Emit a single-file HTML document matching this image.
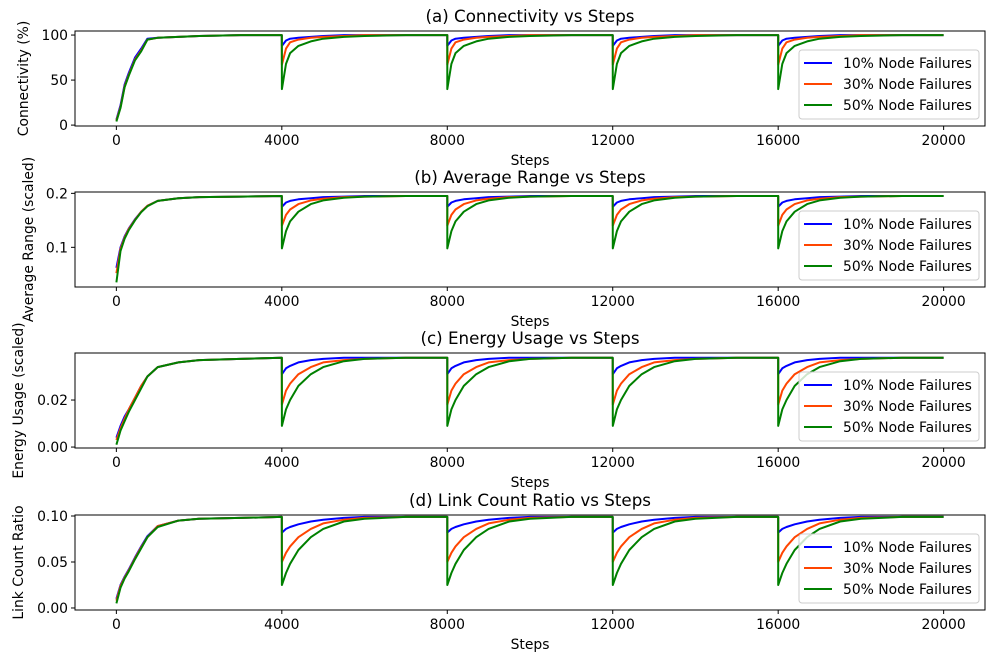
<!DOCTYPE html>
<html><head><meta charset="utf-8"><style>
body{margin:0;background:#fff}
svg{display:block;font-family:"DejaVu Sans","Liberation Sans",sans-serif}
</style></head><body>
<svg id="chart" width="1000" height="658" viewBox="0 0 1000 658"></svg>
<script>
// ---- data ----
const failureSteps = [4000, 8000, 12000, 16000];
const riseOffsets = [0, 100, 200, 300, 450, 600, 750, 1000, 1500, 2000, 3000, 3999];
const recOffsets = [0, 1, 100, 200, 400, 700, 1000, 1500, 2000, 3000, 3999];
const seriesNames = ["10% Node Failures", "30% Node Failures", "50% Node Failures"];
const xTicks = [0, 4000, 8000, 12000, 16000, 20000];

// (a) connectivity
const connRise10 = [6, 22, 45, 58, 75, 85, 96, 97, 98, 99, 100, 100];
const connRise30 = [5, 20, 43, 56, 73, 83, 95, 97, 98, 99, 100, 100];
const connRise50 = [4, 19, 42, 55, 72, 82, 95, 97, 98, 99, 100, 100];
const connRec10 = [100, 88, 94, 96, 97, 98, 99, 100, 100, 100, 100];
const connRec30 = [100, 67, 85, 92, 95, 97, 98, 99, 100, 100, 100];
const connRec50 = [100, 40, 68, 80, 88, 93, 96, 98, 99, 100, 100];
// (b) average range
const rangeRise10 = [0.062, 0.1, 0.12, 0.135, 0.152, 0.166, 0.177, 0.186, 0.191, 0.193, 0.194, 0.195];
const rangeRise30 = [0.052, 0.097, 0.118, 0.134, 0.151, 0.166, 0.177, 0.186, 0.191, 0.193, 0.194, 0.195];
const rangeRise50 = [0.035, 0.093, 0.116, 0.132, 0.15, 0.165, 0.176, 0.186, 0.191, 0.193, 0.194, 0.195];
const rangeRec10 = [0.195, 0.175, 0.183, 0.186, 0.189, 0.191, 0.193, 0.194, 0.195, 0.195, 0.195];
const rangeRec30 = [0.195, 0.14, 0.16, 0.17, 0.18, 0.187, 0.19, 0.193, 0.194, 0.195, 0.195];
const rangeRec50 = [0.195, 0.098, 0.13, 0.148, 0.166, 0.18, 0.187, 0.192, 0.194, 0.195, 0.195];
// (c) energy
const energyRise10 = [0.004, 0.009, 0.013, 0.016, 0.021, 0.026, 0.03, 0.034, 0.036, 0.037, 0.0375, 0.038];
const energyRise30 = [0.003, 0.008, 0.012, 0.016, 0.021, 0.026, 0.03, 0.034, 0.036, 0.037, 0.0375, 0.038];
const energyRise50 = [0.001, 0.007, 0.011, 0.015, 0.02, 0.025, 0.03, 0.034, 0.036, 0.037, 0.0375, 0.038];
const energyRec10 = [0.038, 0.031, 0.0335, 0.0345, 0.036, 0.037, 0.0375, 0.038, 0.038, 0.038, 0.038];
const energyRec30 = [0.038, 0.018, 0.024, 0.027, 0.031, 0.034, 0.036, 0.037, 0.0375, 0.038, 0.038];
const energyRec50 = [0.038, 0.009, 0.016, 0.02, 0.026, 0.031, 0.034, 0.0365, 0.0375, 0.038, 0.038];
// (d) link count ratio
const linkRise10 = [0.01, 0.025, 0.034, 0.042, 0.055, 0.067, 0.078, 0.089, 0.095, 0.097, 0.098, 0.099];
const linkRise30 = [0.008, 0.024, 0.033, 0.041, 0.054, 0.066, 0.077, 0.089, 0.095, 0.097, 0.098, 0.099];
const linkRise50 = [0.005, 0.022, 0.032, 0.04, 0.053, 0.065, 0.077, 0.088, 0.095, 0.097, 0.098, 0.099];
const linkRec10 = [0.099, 0.082, 0.086, 0.088, 0.091, 0.094, 0.096, 0.098, 0.099, 0.099, 0.099];
const linkRec30 = [0.099, 0.05, 0.06, 0.067, 0.077, 0.086, 0.092, 0.096, 0.098, 0.099, 0.099];
const linkRec50 = [0.099, 0.025, 0.038, 0.048, 0.063, 0.077, 0.086, 0.094, 0.097, 0.099, 0.099];

const colors = ["#0000ff", "#ff4500", "#008000"];
const panels = [
 {title:"(a) Connectivity vs Steps", ylabel:"Connectivity (%)", ylx:28, top:31, bot:126, y0:-1, y1:104.5,
  ticks:[0,50,100], fmt:v=>String(v), rise:[connRise10,connRise30,connRise50], rec:[connRec10,connRec30,connRec50]},
 {title:"(b) Average Range vs Steps", ylabel:"Average Range (scaled)", ylx:33, top:192, bot:287, y0:0.0265, y1:0.2025,
  ticks:[0.1,0.2], fmt:v=>v.toFixed(1), rise:[rangeRise10,rangeRise30,rangeRise50], rec:[rangeRec10,rangeRec30,rangeRec50]},
 {title:"(c) Energy Usage vs Steps", ylabel:"Energy Usage (scaled)", ylx:23, top:353, bot:448, y0:-0.0004, y1:0.0400,
  ticks:[0,0.02], fmt:v=>v.toFixed(2), rise:[energyRise10,energyRise30,energyRise50], rec:[energyRec10,energyRec30,energyRec50]},
 {title:"(d) Link Count Ratio vs Steps", ylabel:"Link Count Ratio", ylx:23, top:515, bot:610, y0:-0.0022, y1:0.1011,
  ticks:[0,0.05,0.1], fmt:v=>v.toFixed(2), rise:[linkRise10,linkRise30,linkRise50], rec:[linkRec10,linkRec30,linkRec50]}
];

const NS="http://www.w3.org/2000/svg";
const svg=document.getElementById('chart');
const L=75,R=985,X0=-1000,X1=21000;
const FS=13.9;
const xs=v=>L+(v-X0)/(X1-X0)*(R-L);
function mk(tag,attrs,parent){const e=document.createElementNS(NS,tag);for(const k in attrs)e.setAttribute(k,attrs[k]);(parent||svg).appendChild(e);return e;}

panels.forEach((p,pi)=>{
  const g=mk('g',{});
  
  
  const ys=v=>p.bot-(v-p.y0)/(p.y1-p.y0)*(p.bot-p.top);
  p.rise.forEach((rise,si)=>{
    const pts=[];
    riseOffsets.forEach((o,i)=>pts.push([o,rise[i]]));
    failureSteps.forEach(fs=>{recOffsets.forEach((o,i)=>pts.push([fs+o,p.rec[si][i]]));});
    pts.push([20000,p.rec[si][p.rec[si].length-1]]);
    const d=pts.map((q,i)=>(i?'L':'M')+xs(q[0]).toFixed(1)+' '+ys(q[1]).toFixed(1)).join(' ');
    const path=mk('path',{d:d,fill:'none',stroke:colors[si],'stroke-width':2,'stroke-linejoin':'round'},g);
    
    
  });
  const box=mk('rect',{x:L,y:p.top,width:R-L,height:p.bot-p.top,fill:'none',stroke:'#000','stroke-width':1},g);
  
  
  xTicks.forEach(t=>{
    mk('line',{x1:xs(t),x2:xs(t),y1:p.bot,y2:p.bot+4,stroke:'#000'},g);
    const tx=mk('text',{x:xs(t),y:p.bot+19,'font-size':FS,'text-anchor':'middle'},g);
    tx.textContent=t;
    
    
  });
  p.ticks.forEach(t=>{
    mk('line',{x1:L-4,x2:L,y1:ys(t),y2:ys(t),stroke:'#000'},g);
    const tx=mk('text',{x:L-7,y:ys(t)+5,'font-size':FS,'text-anchor':'end'},g);
    tx.textContent=p.fmt(t);
    
    
  });
  const xl=mk('text',{x:530,y:p.bot+39,'font-size':FS,'text-anchor':'middle'},g);
  xl.textContent='Steps';
  
  
  const yc=(p.top+p.bot)/2;
  const yl=mk('text',{x:p.ylx,y:yc,'font-size':FS,'text-anchor':'middle',transform:`rotate(-90 ${p.ylx} ${yc})`},g);
  yl.textContent=p.ylabel;
  
  
  const ti=mk('text',{x:530,y:p.top-9,'font-size':16.7,'text-anchor':'middle'},g);
  ti.textContent=p.title;
  
  
  const lg=mk('g',{},g);
  
  
  const ly=p.top+19;
  mk('rect',{x:799,y:ly,width:180,height:69,rx:3,fill:'#fff','fill-opacity':0.8,stroke:'#ccc'},lg);
  seriesNames.forEach((n,si)=>{
    const yy=ly+13+si*21;
    const e=mk('g',{},lg);
    
    
    mk('line',{x1:804,x2:832,y1:yy,y2:yy,stroke:colors[si],'stroke-width':2},e);
    const t=mk('text',{x:843,y:yy+5,'font-size':FS},e);
    t.textContent=n;
  });
});
</script>
</body></html>
